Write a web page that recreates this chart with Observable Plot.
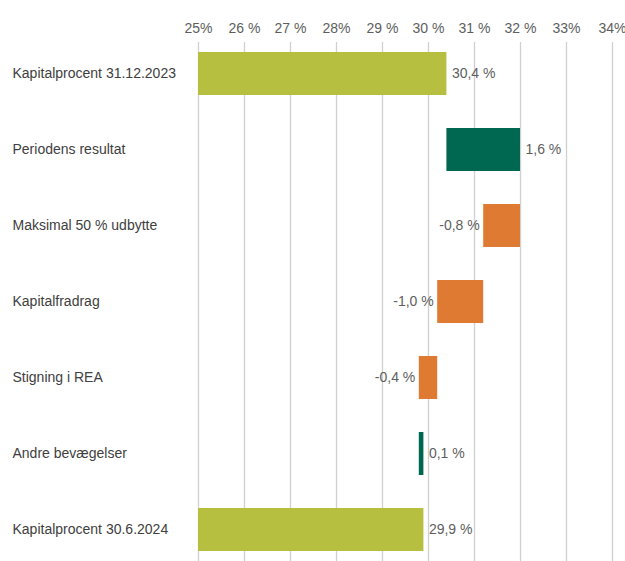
<!DOCTYPE html>
<html>
<head>
<meta charset="utf-8">
<script src="https://cdn.jsdelivr.net/npm/d3@7"></script>
<script src="https://cdn.jsdelivr.net/npm/@observablehq/plot@0.6"></script>
<style>
  html, body { margin: 0; padding: 0; background: #fff; overflow: hidden; }
  #chart svg { overflow: hidden; }
</style>
</head>
<body>
<div id="chart"></div>
<script>
const categories = [
  "Kapitalprocent 31.12.2023",
  "Periodens resultat",
  "Maksimal 50 % udbytte",
  "Kapitalfradrag",
  "Stigning i REA",
  "Andre bevægelser",
  "Kapitalprocent 30.6.2024"
];
const starts = [25, 30.4, 32.0, 31.2, 30.2, 29.8, 25];
const ends   = [30.4, 32.0, 31.2, 30.2, 29.8, 29.9, 29.9];
const kinds  = ["total", "up", "down", "down", "down", "up", "total"];
const valueLabels = ["30,4 %", "1,6 %", "-0,8 %", "-1,0 %", "-0,4 %", "0,1 %", "29,9 %"];
const tickValues = [25, 26, 27, 28, 29, 30, 31, 32, 33, 34];
const tickLabels = ["25%", "26 %", "27 %", "28%", "29 %", "30 %", "31 %", "32 %", "33%", "34%"];

const colors = {total: "#b6bf40", up: "#006850", down: "#de7a31"};

const data = categories.map((c, i) => ({
  cat: c, x1: starts[i], x2: ends[i], kind: kinds[i], label: valueLabels[i],
  lo: Math.min(starts[i], ends[i]), hi: Math.max(starts[i], ends[i])
}));

const chart = Plot.plot({
  width: 625,
  height: 561,
  marginTop: 50,
  marginBottom: 9,
  marginLeft: 198,
  marginRight: 13,
  style: {fontFamily: "'Liberation Sans', Arial, Helvetica, sans-serif", fontSize: "14px", background: "#fff"},
  x: {domain: [25, 34], axis: null},
  y: {domain: categories, paddingInner: 0.44, paddingOuter: 0, axis: null},
  marks: [
    Plot.gridX(tickValues, {stroke: "#d0d0d0", strokeOpacity: 1, strokeWidth: 1.3, insetTop: -8, insetBottom: -9}),
    Plot.axisX(tickValues, {
      anchor: "top", tickSize: 0, tickPadding: 18,
      tickFormat: (d) => tickLabels[tickValues.indexOf(d)],
      fill: "#5e5e5e", fontSize: 14
    }),
    Plot.barX(data, {x1: "x1", x2: "x2", y: "cat", fill: (d) => colors[d.kind]}),
    Plot.text(data.filter(d => d.kind !== "down"), {
      x: "hi", y: "cat", text: "label", textAnchor: "start", dx: 5, fill: "#5e5e5e", fontSize: 14
    }),
    Plot.text(data.filter(d => d.kind === "down"), {
      x: "lo", y: "cat", text: "label", textAnchor: "end", dx: -4, fill: "#5e5e5e", fontSize: 14
    }),
    Plot.text(data, {
      y: "cat", text: "cat", frameAnchor: "left", textAnchor: "start", dx: -186, fill: "#404040", fontSize: 14
    })
  ]
});
document.getElementById("chart").appendChild(chart);
</script>
</body>
</html>
